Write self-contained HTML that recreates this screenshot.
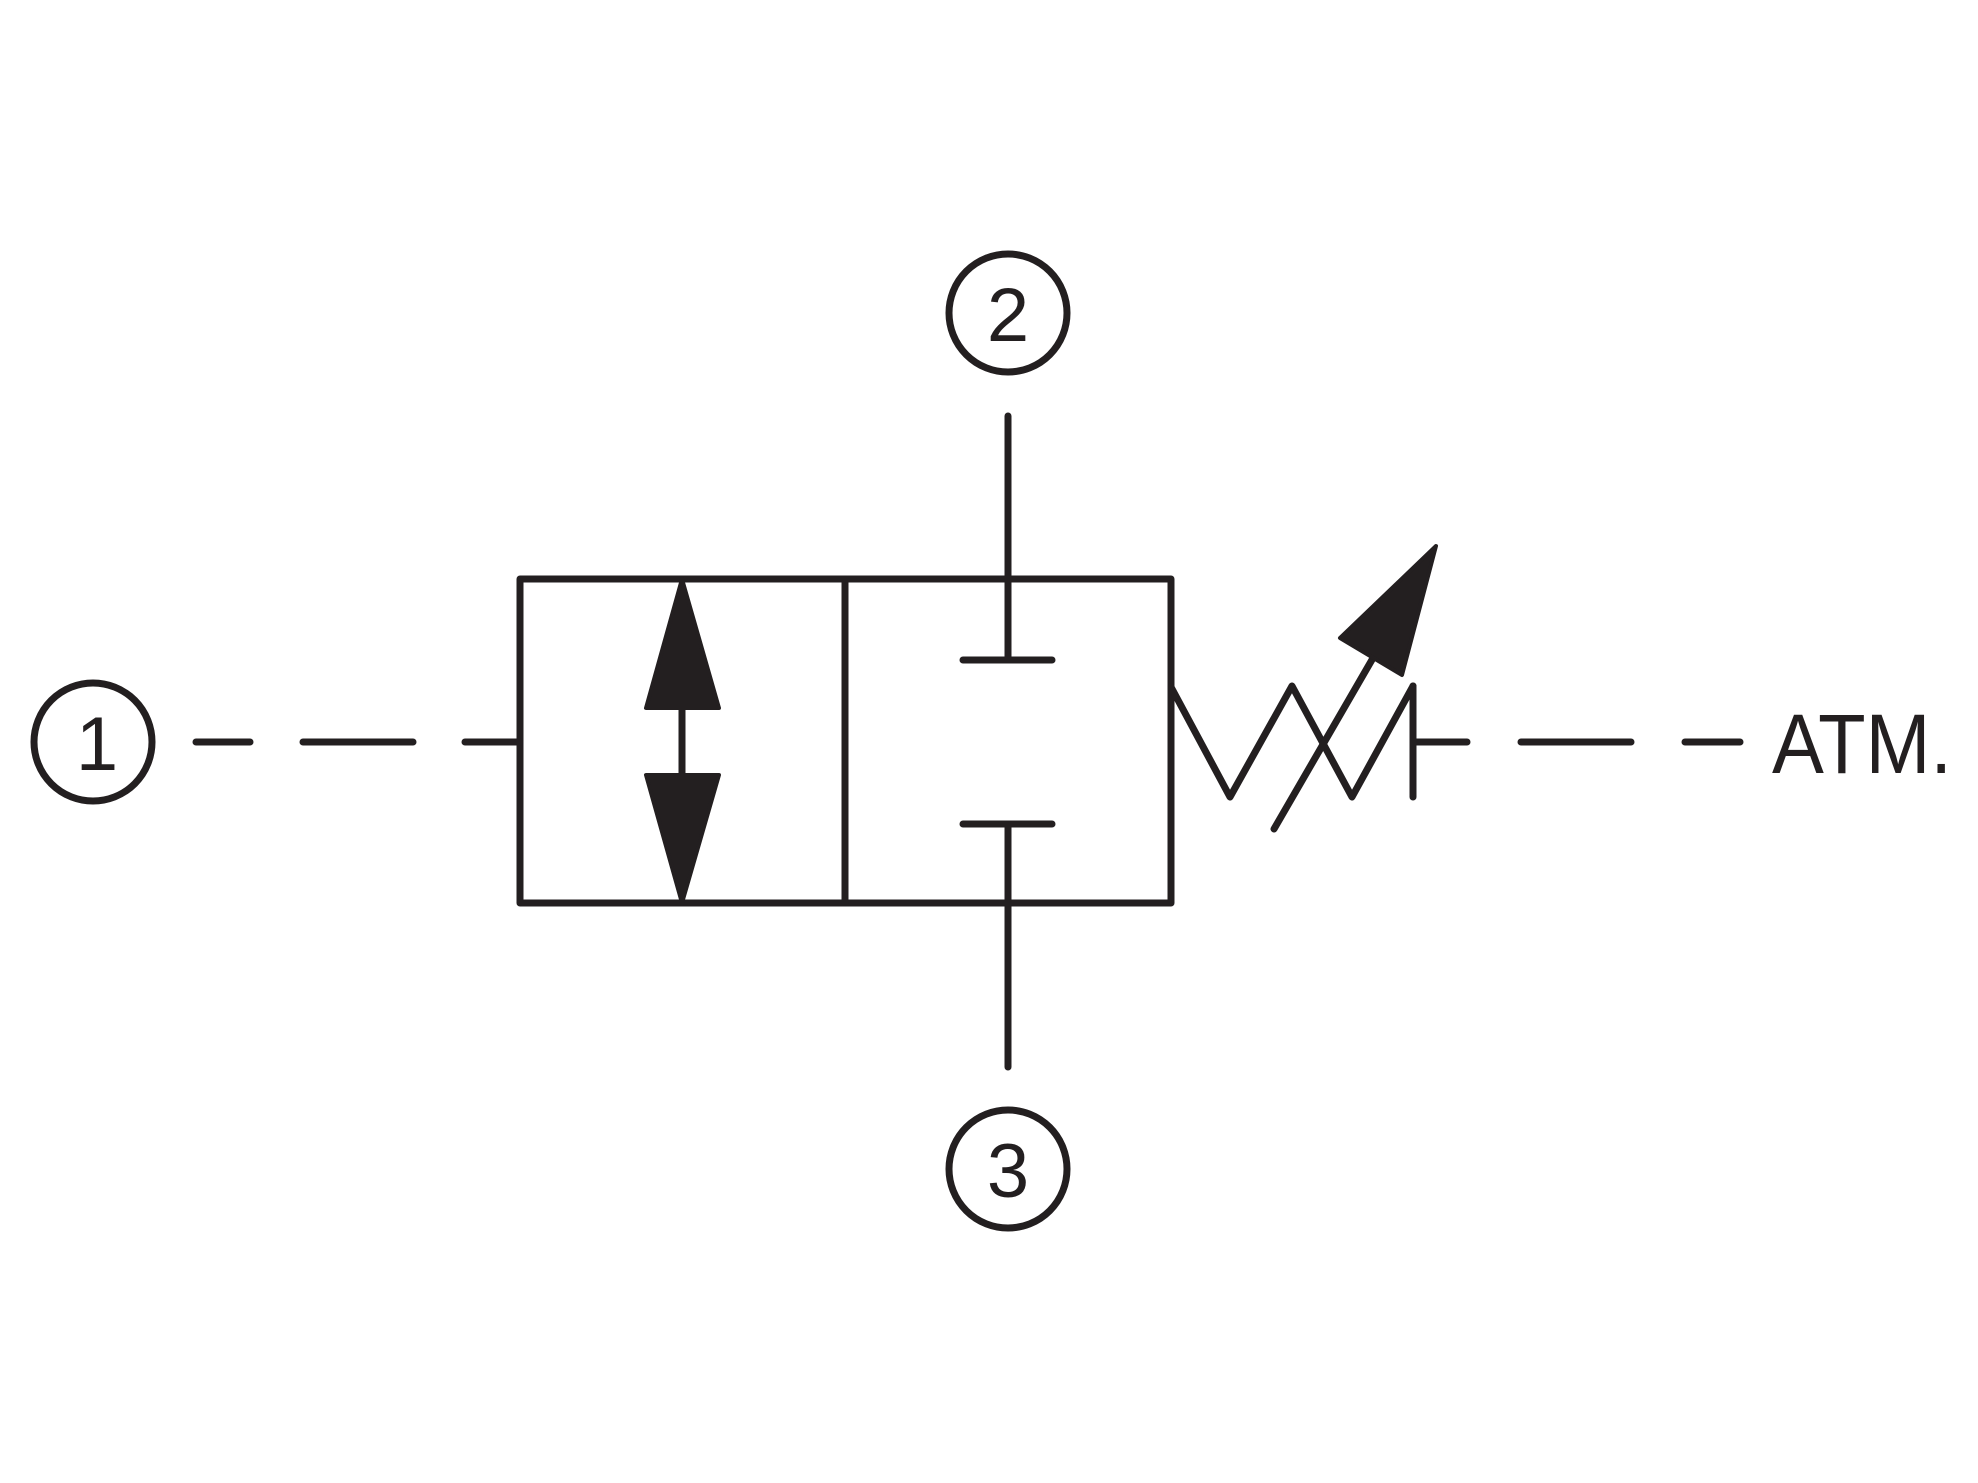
<!DOCTYPE html>
<html><head><meta charset="utf-8"><style>
html,body{margin:0;padding:0;background:#fff;}
svg{display:block}
</style></head><body>
<svg width="1978" height="1483" viewBox="0 0 1978 1483" xmlns="http://www.w3.org/2000/svg">
<g stroke="#231f20" stroke-width="7" fill="none" stroke-linecap="round" stroke-linejoin="round">
<rect x="520" y="579" width="651" height="324"/>
<line x1="845" y1="579" x2="845" y2="903"/>
<line x1="1008" y1="416" x2="1008" y2="660"/>
<line x1="963" y1="660" x2="1052" y2="660"/>
<line x1="1008" y1="824" x2="1008" y2="1067"/>
<line x1="963" y1="824" x2="1052" y2="824"/>
<line x1="196" y1="742" x2="250" y2="742"/>
<line x1="303" y1="742" x2="413" y2="742"/>
<line x1="465" y1="742" x2="520" y2="742"/>
<line x1="1415" y1="742" x2="1467" y2="742"/>
<line x1="1521" y1="742" x2="1631" y2="742"/>
<line x1="1685" y1="742" x2="1740" y2="742"/>
<line x1="682" y1="708" x2="682" y2="775"/>
<polyline points="1171,687 1230,797 1292,686 1352,797 1413,686"/>
<line x1="1413" y1="686" x2="1413" y2="797"/>
<line x1="1274" y1="829" x2="1373" y2="658"/>
<circle cx="1008" cy="313" r="59"/>
<circle cx="93" cy="742" r="59"/>
<circle cx="1008" cy="1169" r="59"/>
</g>
<g fill="#231f20" stroke="#231f20" stroke-width="4" stroke-linejoin="round">
<polygon points="682,579 646,708 719,708"/>
<polygon points="682,903 646,775 719,775"/>
<polygon points="1436,546 1340,638 1402,675"/>
</g>
<g font-family="Liberation Sans, sans-serif" fill="#231f20" text-anchor="middle" font-size="76">
<text x="1008" y="341">2</text>
<text x="97" y="770">1</text>
<text x="1008" y="1197">3</text>
<text x="1862" y="773" font-size="84" textLength="180" lengthAdjust="spacingAndGlyphs">ATM.</text>
</g>
</svg>
</body></html>
